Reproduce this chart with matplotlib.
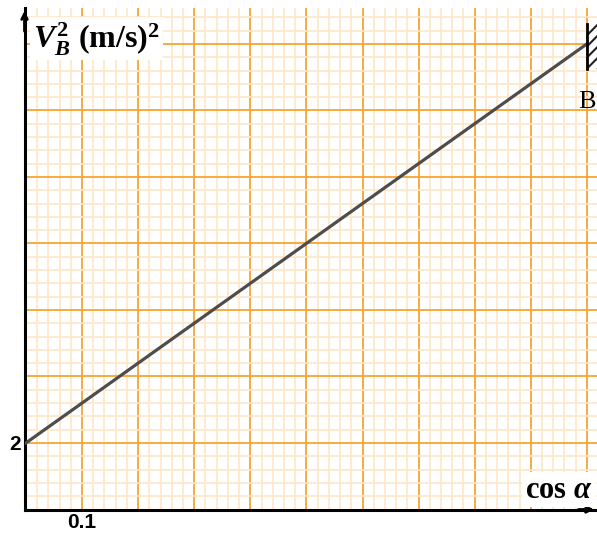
import numpy as np
import matplotlib
matplotlib.use("Agg")
from matplotlib import pyplot as plt
from matplotlib.patches import Rectangle

# data
cos_a = np.array([0.0, 1.0])
vb2 = np.array([2.0, 14.0])
xtick_vals = [0.1]
xtick_labels = ["0.1"]
ytick_vals = [2]
ytick_labels = ["2"]

plt.rcParams['mathtext.fontset'] = 'custom'
plt.rcParams['mathtext.rm'] = 'Liberation Serif:bold'
plt.rcParams['mathtext.it'] = 'Liberation Serif:bold:italic'
plt.rcParams['mathtext.bf'] = 'Liberation Serif:bold'
plt.rcParams['hatch.linewidth'] = 1.5

W, H = 597, 536
fig = plt.figure(figsize=(W / 100, H / 100), dpi=100)
ax = fig.add_axes([24.5 / W, (H - 509.5) / H, (W - 24.5) / W, (509.5 - 8) / H])

# graph paper grid
ax.set_xticks(np.arange(0, 1.05, 0.1))
ax.set_xticks(np.arange(0, 1.05, 0.02), minor=True)
ax.set_yticks(np.arange(0, 15.1, 2))
ax.set_yticks(np.arange(0, 15.1, 0.4), minor=True)
# limits after the ticks, set_xticks widens the view otherwise
ax.set_xlim(-0.0025, 1.018)
ax.set_ylim(0, 15.08)
ax.grid(which='minor', color='#fee6c8', lw=1.2, zorder=0)
ax.grid(which='major', color='#f8a530', lw=1.3, zorder=0)
ax.set_axisbelow(True)
ax.tick_params(which='both', length=0, labelbottom=False, labelleft=False)

for s in ['top', 'right']:
    ax.spines[s].set_visible(False)
ax.spines['left'].set_linewidth(2.2)
ax.spines['bottom'].set_linewidth(2.2)

# arrows on the axes
ax.annotate('', xy=(-0.0025, 15.08), xytext=(-0.0025, 14.3),
            arrowprops=dict(arrowstyle='->', lw=2, color='black'),
            annotation_clip=False)
ax.annotate('', xy=(1.018, 0), xytext=(0.98, 0),
            arrowprops=dict(arrowstyle='->', lw=2, color='black'),
            annotation_clip=False)

ax.plot(cos_a, vb2, color='#4d4d4d', lw=2.3, zorder=3)

# wall at B
ax.add_patch(Rectangle((1.0, 13.26), 0.02, 1.34, facecolor='white',
                       edgecolor='#222222', lw=0, hatch='///', zorder=2,
                       clip_on=False))
ax.plot([1.0, 1.0], [13.26, 14.6], color='black', lw=2, zorder=4)
ax.text(0.984, 12.25, 'B', fontsize=19, family='Liberation Serif',
        ha='left', va='center')

# tick labels
for v, t in zip(xtick_vals, xtick_labels):
    ax.text(v, -0.4, t, fontsize=15, fontweight='bold',
            family='Liberation Sans', ha='center', va='center')
for v, t in zip(ytick_vals, ytick_labels):
    ax.text(-0.009, v - 0.05, t, fontsize=15, fontweight='bold',
            family='Liberation Sans', ha='right', va='center')

ax.text(0.012, 14.15, r'$V_B^2\ \mathrm{(m/s)^2}$', fontsize=23,
        ha='left', va='center', zorder=5,
        bbox=dict(facecolor='white', edgecolor='none', pad=2))
ax.text(1.011, 0.6, r'$\mathrm{cos}\ \alpha$', fontsize=22,
        ha='right', va='center', zorder=5,
        bbox=dict(facecolor='white', edgecolor='none', pad=2))

fig.savefig('out.png', dpi=100)
